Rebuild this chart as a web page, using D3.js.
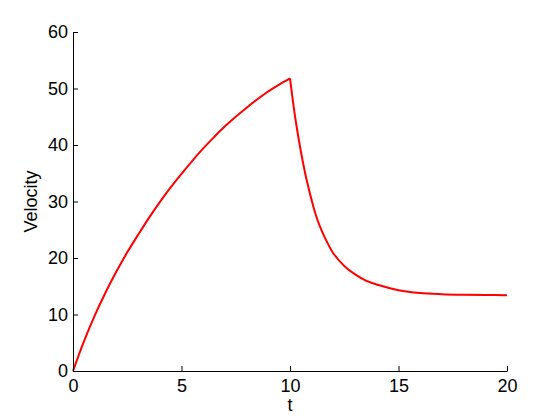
<!DOCTYPE html>
<html>
<head>
<meta charset="utf-8">
<script src="https://cdn.jsdelivr.net/npm/d3@7"></script>
<style>
  html, body { margin: 0; padding: 0; background: #fff; }
  #chart { width: 560px; height: 420px; }
  #chart text { font-family: Arial, "Liberation Sans", Helvetica, sans-serif; fill: #000; }
</style>
</head>
<body>
<div id="chart"></div>
<script>
// velocity readings (parachute opens at t = 10)
var T_VALUES = [0, 0.5, 1, 1.5, 2, 2.5, 3, 3.5, 4, 4.5, 5, 5.5, 6, 6.5, 7, 7.5, 8, 8.5, 9, 9.5, 10,
  10.25, 10.5, 10.75, 11, 11.25, 11.5, 11.75, 12, 12.5, 13, 13.5, 14, 15, 16, 17, 18, 19, 20];
var V_VALUES = [0, 5.2, 9.8, 13.9, 17.6, 21.0, 24.1, 27.1, 29.9, 32.5, 34.9, 37.2, 39.4, 41.4, 43.3, 45.0, 46.6, 48.1, 49.5, 50.7, 51.8,
  44.6, 38.9, 34.1, 30.2, 26.9, 24.5, 22.5, 20.8, 18.6, 17.1, 16.0, 15.3, 14.3, 13.8, 13.6, 13.5, 13.45, 13.4];
var PEAK_T = 10;
var X_TICKS = [0, 5, 10, 15, 20];
var Y_TICKS = [0, 10, 20, 30, 40, 50, 60];

(function () {
  "use strict";

  var WIDTH = 560;
  var HEIGHT = 420;
  var margin = { top: 32, right: 53, bottom: 49, left: 73 };
  var TICK_LEN = 5;
  var FONT = "18px";

  var svg = d3.select("#chart")
    .append("svg")
    .attr("width", WIDTH)
    .attr("height", HEIGHT)
    .attr("viewBox", [0, 0, WIDTH, HEIGHT]);

  var x = d3.scaleLinear().domain([0, 20]).range([margin.left, WIDTH - margin.right]);
  var y = d3.scaleLinear().domain([0, 60]).range([HEIGHT - margin.bottom, margin.top]);

  var points = T_VALUES.map(function (t, i) { return [t, V_VALUES[i]]; });
  // split at the kink so the smoothing doesn't round the peak
  var rising = points.filter(function (d) { return d[0] <= PEAK_T; });
  var falling = points.filter(function (d) { return d[0] >= PEAK_T; });

  var line = d3.line()
    .curve(d3.curveCatmullRom.alpha(0.5))
    .x(function (d) { return x(d[0]); })
    .y(function (d) { return y(d[1]); });

  svg.selectAll("path.curve")
    .data([rising, falling])
    .join("path")
    .attr("class", "curve")
    .attr("fill", "none")
    .attr("stroke", "#ff0000")
    .attr("stroke-width", 2)
    .attr("stroke-linejoin", "round")
    .attr("d", line);

  var xAxis = svg.append("g")
    .attr("transform", "translate(0," + y(0) + ")")
    .call(d3.axisBottom(x).tickValues(X_TICKS).tickSizeInner(-TICK_LEN).tickSizeOuter(0).tickPadding(8));

  var yAxis = svg.append("g")
    .attr("transform", "translate(" + x(0) + ",0)")
    .call(d3.axisLeft(y).tickValues(Y_TICKS).tickSizeInner(-TICK_LEN).tickSizeOuter(0).tickPadding(5));

  [xAxis, yAxis].forEach(function (ax) {
    ax.select(".domain").attr("stroke", "#000").attr("stroke-width", 1);
    ax.selectAll(".tick line").attr("stroke", "#000").attr("stroke-width", 1);
    ax.selectAll(".tick text").style("font-size", FONT).attr("fill", "#000");
  });

  svg.append("text")
    .attr("x", (x(0) + x(20)) / 2)
    .attr("y", 411)
    .attr("text-anchor", "middle")
    .style("font-size", FONT)
    .text("t");

  svg.append("text")
    .attr("transform", "translate(37," + (y(0) + y(60)) / 2 + ") rotate(-90)")
    .attr("text-anchor", "middle")
    .style("font-size", FONT)
    .text("Velocity");
})();
</script>
</body>
</html>
